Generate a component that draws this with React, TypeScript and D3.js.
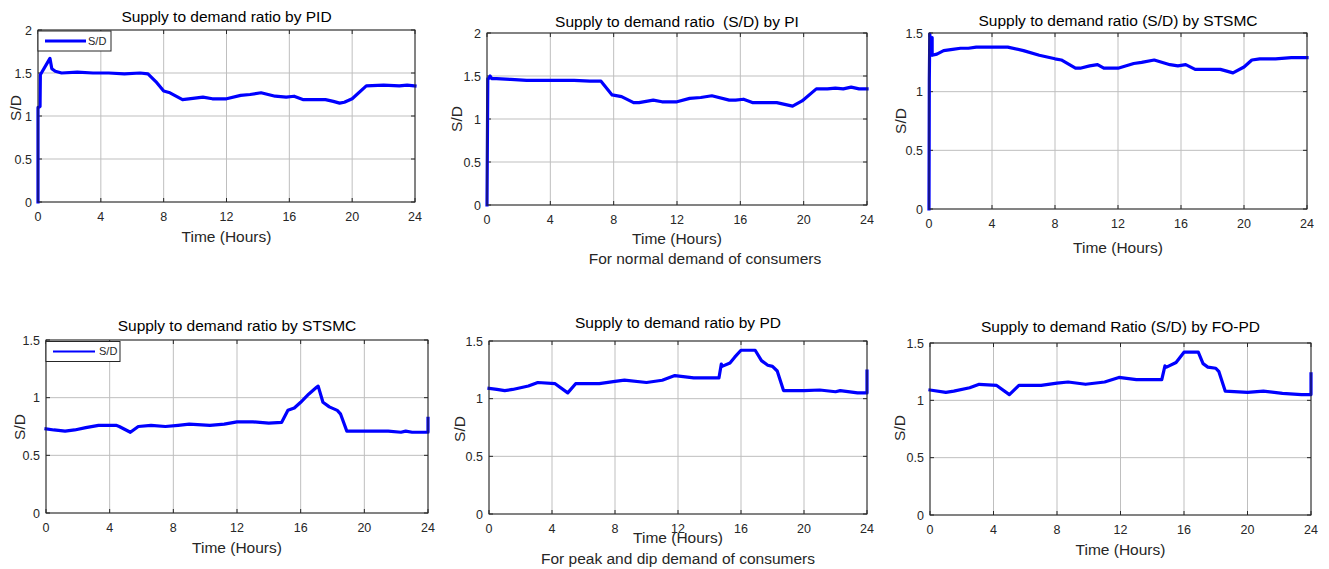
import React from "react";
import * as d3 from "d3";

// ---- data ----
const xTicks = [0, 4, 8, 12, 16, 20, 24];
const yTicks2 = [0, 0.5, 1, 1.5, 2];
const yTicks15 = [0, 0.5, 1, 1.5];

const pidT = [0, 0, 0.05, 0.13, 0.15, 0.76, 0.88, 1.1, 1.5, 2.5, 3.5, 4.5, 5.5, 6.5, 7.0, 7.5, 8.0, 8.4, 9.2, 9.6, 10.5, 11.1, 12.0, 12.9, 13.5, 14.2, 15.1, 15.8, 16.3, 16.9, 18.3, 18.8, 19.2, 19.5, 20.0, 20.9, 22.0, 23.0, 23.5, 24];
const pidV = [0, 1.1, 1.1, 1.11, 1.48, 1.67, 1.55, 1.52, 1.5, 1.51, 1.5, 1.5, 1.49, 1.5, 1.49, 1.4, 1.29, 1.27, 1.19, 1.2, 1.22, 1.2, 1.2, 1.24, 1.25, 1.27, 1.23, 1.22, 1.23, 1.19, 1.19, 1.17, 1.15, 1.16, 1.2, 1.35, 1.36, 1.35, 1.36, 1.35];

const piT = [0, 0.05, 0.1, 0.2, 0.3, 0.6, 1.5, 2.5, 4, 5.5, 6.5, 7.2, 7.9, 8.5, 9.26, 9.6, 10.5, 11.05, 12.0, 12.8, 13.5, 14.2, 15.3, 15.7, 16.2, 16.8, 18.3, 18.8, 19.3, 19.9, 20.8, 21.5, 22.0, 22.5, 23.0, 23.5, 24];
const piV = [0, 1.47, 1.47, 1.5, 1.47, 1.47, 1.46, 1.45, 1.45, 1.45, 1.44, 1.44, 1.28, 1.26, 1.19, 1.19, 1.22, 1.2, 1.2, 1.24, 1.25, 1.27, 1.22, 1.22, 1.23, 1.19, 1.19, 1.17, 1.15, 1.21, 1.35, 1.35, 1.36, 1.35, 1.37, 1.35, 1.35];

const stsmcNT = [0, 0.02, 0.05, 0.08, 0.2, 0.2, 0.5, 0.93, 1.5, 2, 2.5, 3, 4, 5, 6, 7, 8, 8.4, 9.3, 9.6, 10.2, 10.7, 11.1, 12, 13, 13.5, 14.3, 15.3, 15.8, 16.3, 16.9, 18.5, 19.3, 20.0, 20.5, 21, 22, 23, 24];
const stsmcNV = [0, 1.1, 1.49, 1.45, 1.46, 1.31, 1.32, 1.35, 1.36, 1.37, 1.37, 1.38, 1.38, 1.38, 1.35, 1.31, 1.28, 1.27, 1.2, 1.2, 1.22, 1.23, 1.2, 1.2, 1.24, 1.25, 1.27, 1.23, 1.22, 1.23, 1.19, 1.19, 1.16, 1.21, 1.27, 1.28, 1.28, 1.29, 1.29];

const stsmcPT = [0, 0.5, 1.2, 1.8, 2.5, 3.3, 4.4, 4.6, 5.3, 5.8, 6.6, 7.5, 8.3, 9, 10.3, 11.2, 12, 13, 14, 14.8, 15.2, 15.6, 16, 16.5, 17, 17.1, 17.4, 17.8, 18.3, 18.5, 18.9, 20, 21.5, 22.3, 22.6, 23, 24, 24];
const stsmcPV = [0.73, 0.72, 0.71, 0.72, 0.74, 0.76, 0.76, 0.75, 0.7, 0.75, 0.76, 0.75, 0.76, 0.77, 0.76, 0.77, 0.79, 0.79, 0.78, 0.785, 0.89, 0.91, 0.96, 1.03, 1.09, 1.1, 0.96, 0.92, 0.89, 0.86, 0.71, 0.71, 0.71, 0.7, 0.71, 0.7, 0.7, 0.82];

const pdT = [0, 0.5, 1, 1.5, 2.5, 3.1, 4.2, 5.0, 5.5, 7, 8, 8.6, 10, 11, 11.8, 13, 14.6, 14.75, 14.8, 15.3, 15.6, 16, 16.9, 17.3, 17.7, 18, 18.3, 18.7, 20, 21, 22, 22.3, 23.4, 24, 24];
const pdV = [1.09, 1.08, 1.07, 1.08, 1.11, 1.14, 1.13, 1.05, 1.13, 1.13, 1.15, 1.16, 1.14, 1.16, 1.2, 1.18, 1.18, 1.3, 1.28, 1.31, 1.36, 1.42, 1.42, 1.33, 1.29, 1.28, 1.24, 1.07, 1.07, 1.075, 1.06, 1.07, 1.05, 1.05, 1.24];

const fopdT = [0, 1, 1.5, 2.5, 3.1, 4.2, 5.0, 5.6, 7, 8, 8.7, 9.8, 11, 11.9, 13, 14.6, 14.8, 14.9, 15.5, 16, 16.9, 17.2, 17.5, 18, 18.2, 18.6, 20, 21, 22.2, 23.4, 24, 24];
const fopdV = [1.09, 1.07, 1.08, 1.11, 1.14, 1.13, 1.05, 1.13, 1.13, 1.15, 1.16, 1.14, 1.16, 1.2, 1.18, 1.18, 1.3, 1.29, 1.33, 1.42, 1.42, 1.32, 1.29, 1.28, 1.25, 1.08, 1.07, 1.08, 1.06, 1.05, 1.05, 1.23];

const titles = [
  "Supply to demand ratio by PID",
  "Supply to demand ratio  (S/D) by PI",
  "Supply to demand ratio (S/D) by STSMC",
  "Supply to demand ratio by STSMC",
  "Supply to demand ratio by PD",
  "Supply to demand Ratio (S/D) by FO-PD",
];
const xLabel = "Time (Hours)";
const yLabel = "S/D";
const legendLabel = "S/D";
const captionTop = "For normal demand of consumers";
const captionBottom = "For peak and dip demand of consumers";

// ---- layout ----
type Panel = {
  L: number; R: number; T: number; B: number; ymax: number; yTicks: number[];
  titleY: number; xLabY: number; yLabX: number; yLabY: number;
  t: number[]; v: number[]; title: string;
  legend?: { x0: number; x1: number; y0: number; y1: number; lx0: number; lx1: number; tx: number; lw: number };
};

const panels: Panel[] = [
  { L: 38, R: 415, T: 30, B: 202, ymax: 2, yTicks: yTicks2, titleY: 22, xLabY: 242, yLabX: 15, yLabY: 108, t: pidT, v: pidV, title: titles[0],
    legend: { x0: 38, x1: 111, y0: 31, y1: 51, lx0: 45, lx1: 86, tx: 88, lw: 3 } },
  { L: 487, R: 867, T: 33, B: 205, ymax: 2, yTicks: yTicks2, titleY: 26.5, xLabY: 244, yLabX: 456, yLabY: 119, t: piT, v: piV, title: titles[1] },
  { L: 929, R: 1307, T: 33, B: 209, ymax: 1.5, yTicks: yTicks15, titleY: 26, xLabY: 253, yLabX: 900, yLabY: 121, t: stsmcNT, v: stsmcNV, title: titles[2] },
  { L: 46, R: 428, T: 340, B: 513, ymax: 1.5, yTicks: yTicks15, titleY: 331, xLabY: 553, yLabX: 19, yLabY: 427, t: stsmcPT, v: stsmcPV, title: titles[3],
    legend: { x0: 46, x1: 120, y0: 341.5, y1: 361.5, lx0: 53, lx1: 95, tx: 99, lw: 2.2 } },
  { L: 489, R: 867, T: 341, B: 514, ymax: 1.5, yTicks: yTicks15, titleY: 328, xLabY: 543, yLabX: 459, yLabY: 429, t: pdT, v: pdV, title: titles[4] },
  { L: 930, R: 1311, T: 343, B: 515, ymax: 1.5, yTicks: yTicks15, titleY: 332, xLabY: 555, yLabX: 899, yLabY: 428, t: fopdT, v: fopdV, title: titles[5] },
];

const FONT = "'Liberation Sans', Arial, Helvetica, sans-serif";
const AXIS = "#262626";
const GRID = "#bfbfbf";
const BLUE = "#0000ff";
const FS = 15.5;
const TFS = 12.5;

function PanelView({ p }: { p: Panel }) {
  const x = d3.scaleLinear().domain([0, 24]).range([p.L, p.R]);
  const y = d3.scaleLinear().domain([0, p.ymax]).range([p.B, p.T]);
  const pts = p.t.map((t, i) => [t, p.v[i]] as [number, number]);
  const line = d3.line<[number, number]>().x((d) => x(d[0])).y((d) => y(d[1]));
  const tl = 4;
  return (
    <g>
      {xTicks.map((t) => (
        <line key={"gx" + t} x1={x(t)} x2={x(t)} y1={p.T} y2={p.B} stroke={GRID} strokeWidth={1} />
      ))}
      {p.yTicks.map((t) => (
        <line key={"gy" + t} x1={p.L} x2={p.R} y1={y(t)} y2={y(t)} stroke={GRID} strokeWidth={1} />
      ))}
      {xTicks.map((t) => (
        <g key={"tx" + t}>
          <line x1={x(t)} x2={x(t)} y1={p.B} y2={p.B - tl} stroke={AXIS} />
          <line x1={x(t)} x2={x(t)} y1={p.T} y2={p.T + tl} stroke={AXIS} />
          <text x={x(t)} y={p.B + 18.5} textAnchor="middle" fontSize={TFS} fill={AXIS} fontFamily={FONT}>{t}</text>
        </g>
      ))}
      {p.yTicks.map((t) => (
        <g key={"ty" + t}>
          <line x1={p.L} x2={p.L + tl} y1={y(t)} y2={y(t)} stroke={AXIS} />
          <line x1={p.R} x2={p.R - tl} y1={y(t)} y2={y(t)} stroke={AXIS} />
          <text x={p.L - 6} y={y(t)} dy="0.36em" textAnchor="end" fontSize={TFS} fill={AXIS} fontFamily={FONT}>{t}</text>
        </g>
      ))}
      <path d={line(pts) || ""} fill="none" stroke={BLUE} strokeWidth={3.2} strokeLinejoin="round" strokeLinecap="square" />
      <rect x={p.L} y={p.T} width={p.R - p.L} height={p.B - p.T} fill="none" stroke={AXIS} strokeWidth={1} />
      {p.legend && (
        <g>
          <rect x={p.legend.x0} y={p.legend.y0} width={p.legend.x1 - p.legend.x0} height={p.legend.y1 - p.legend.y0} fill="#fff" stroke={AXIS} strokeWidth={1} />
          <line x1={p.legend.lx0} x2={p.legend.lx1} y1={(p.legend.y0 + p.legend.y1) / 2} y2={(p.legend.y0 + p.legend.y1) / 2} stroke={BLUE} strokeWidth={p.legend.lw} />
          <text x={p.legend.tx} y={(p.legend.y0 + p.legend.y1) / 2} dy="0.36em" fontSize={11} fill={AXIS} fontFamily={FONT}>{legendLabel}</text>
        </g>
      )}
      <text x={(p.L + p.R) / 2} y={p.titleY} textAnchor="middle" fontSize={FS} fill="#000" fontFamily={FONT} style={{ whiteSpace: "pre" }}>{p.title}</text>
      <text x={(p.L + p.R) / 2} y={p.xLabY} textAnchor="middle" fontSize={FS} fill={AXIS} fontFamily={FONT}>{xLabel}</text>
      <text transform={`translate(${p.yLabX},${p.yLabY}) rotate(-90)`} textAnchor="middle" dy="0.36em" fontSize={FS} fill={AXIS} fontFamily={FONT}>{yLabel}</text>
    </g>
  );
}

export default function App() {
  return (
    <svg width={1329} height={569} style={{ position: "absolute", left: 0, top: 0, background: "#fff" }}>
      <rect x={0} y={0} width={1329} height={569} fill="#fff" />
      {panels.map((p, i) => (
        <PanelView key={i} p={p} />
      ))}
      <text x={705} y={264} textAnchor="middle" fontSize={FS} fill={AXIS} fontFamily={FONT}>{captionTop}</text>
      <text x={678} y={564} textAnchor="middle" fontSize={FS} fill={AXIS} fontFamily={FONT}>{captionBottom}</text>
    </svg>
  );
}
